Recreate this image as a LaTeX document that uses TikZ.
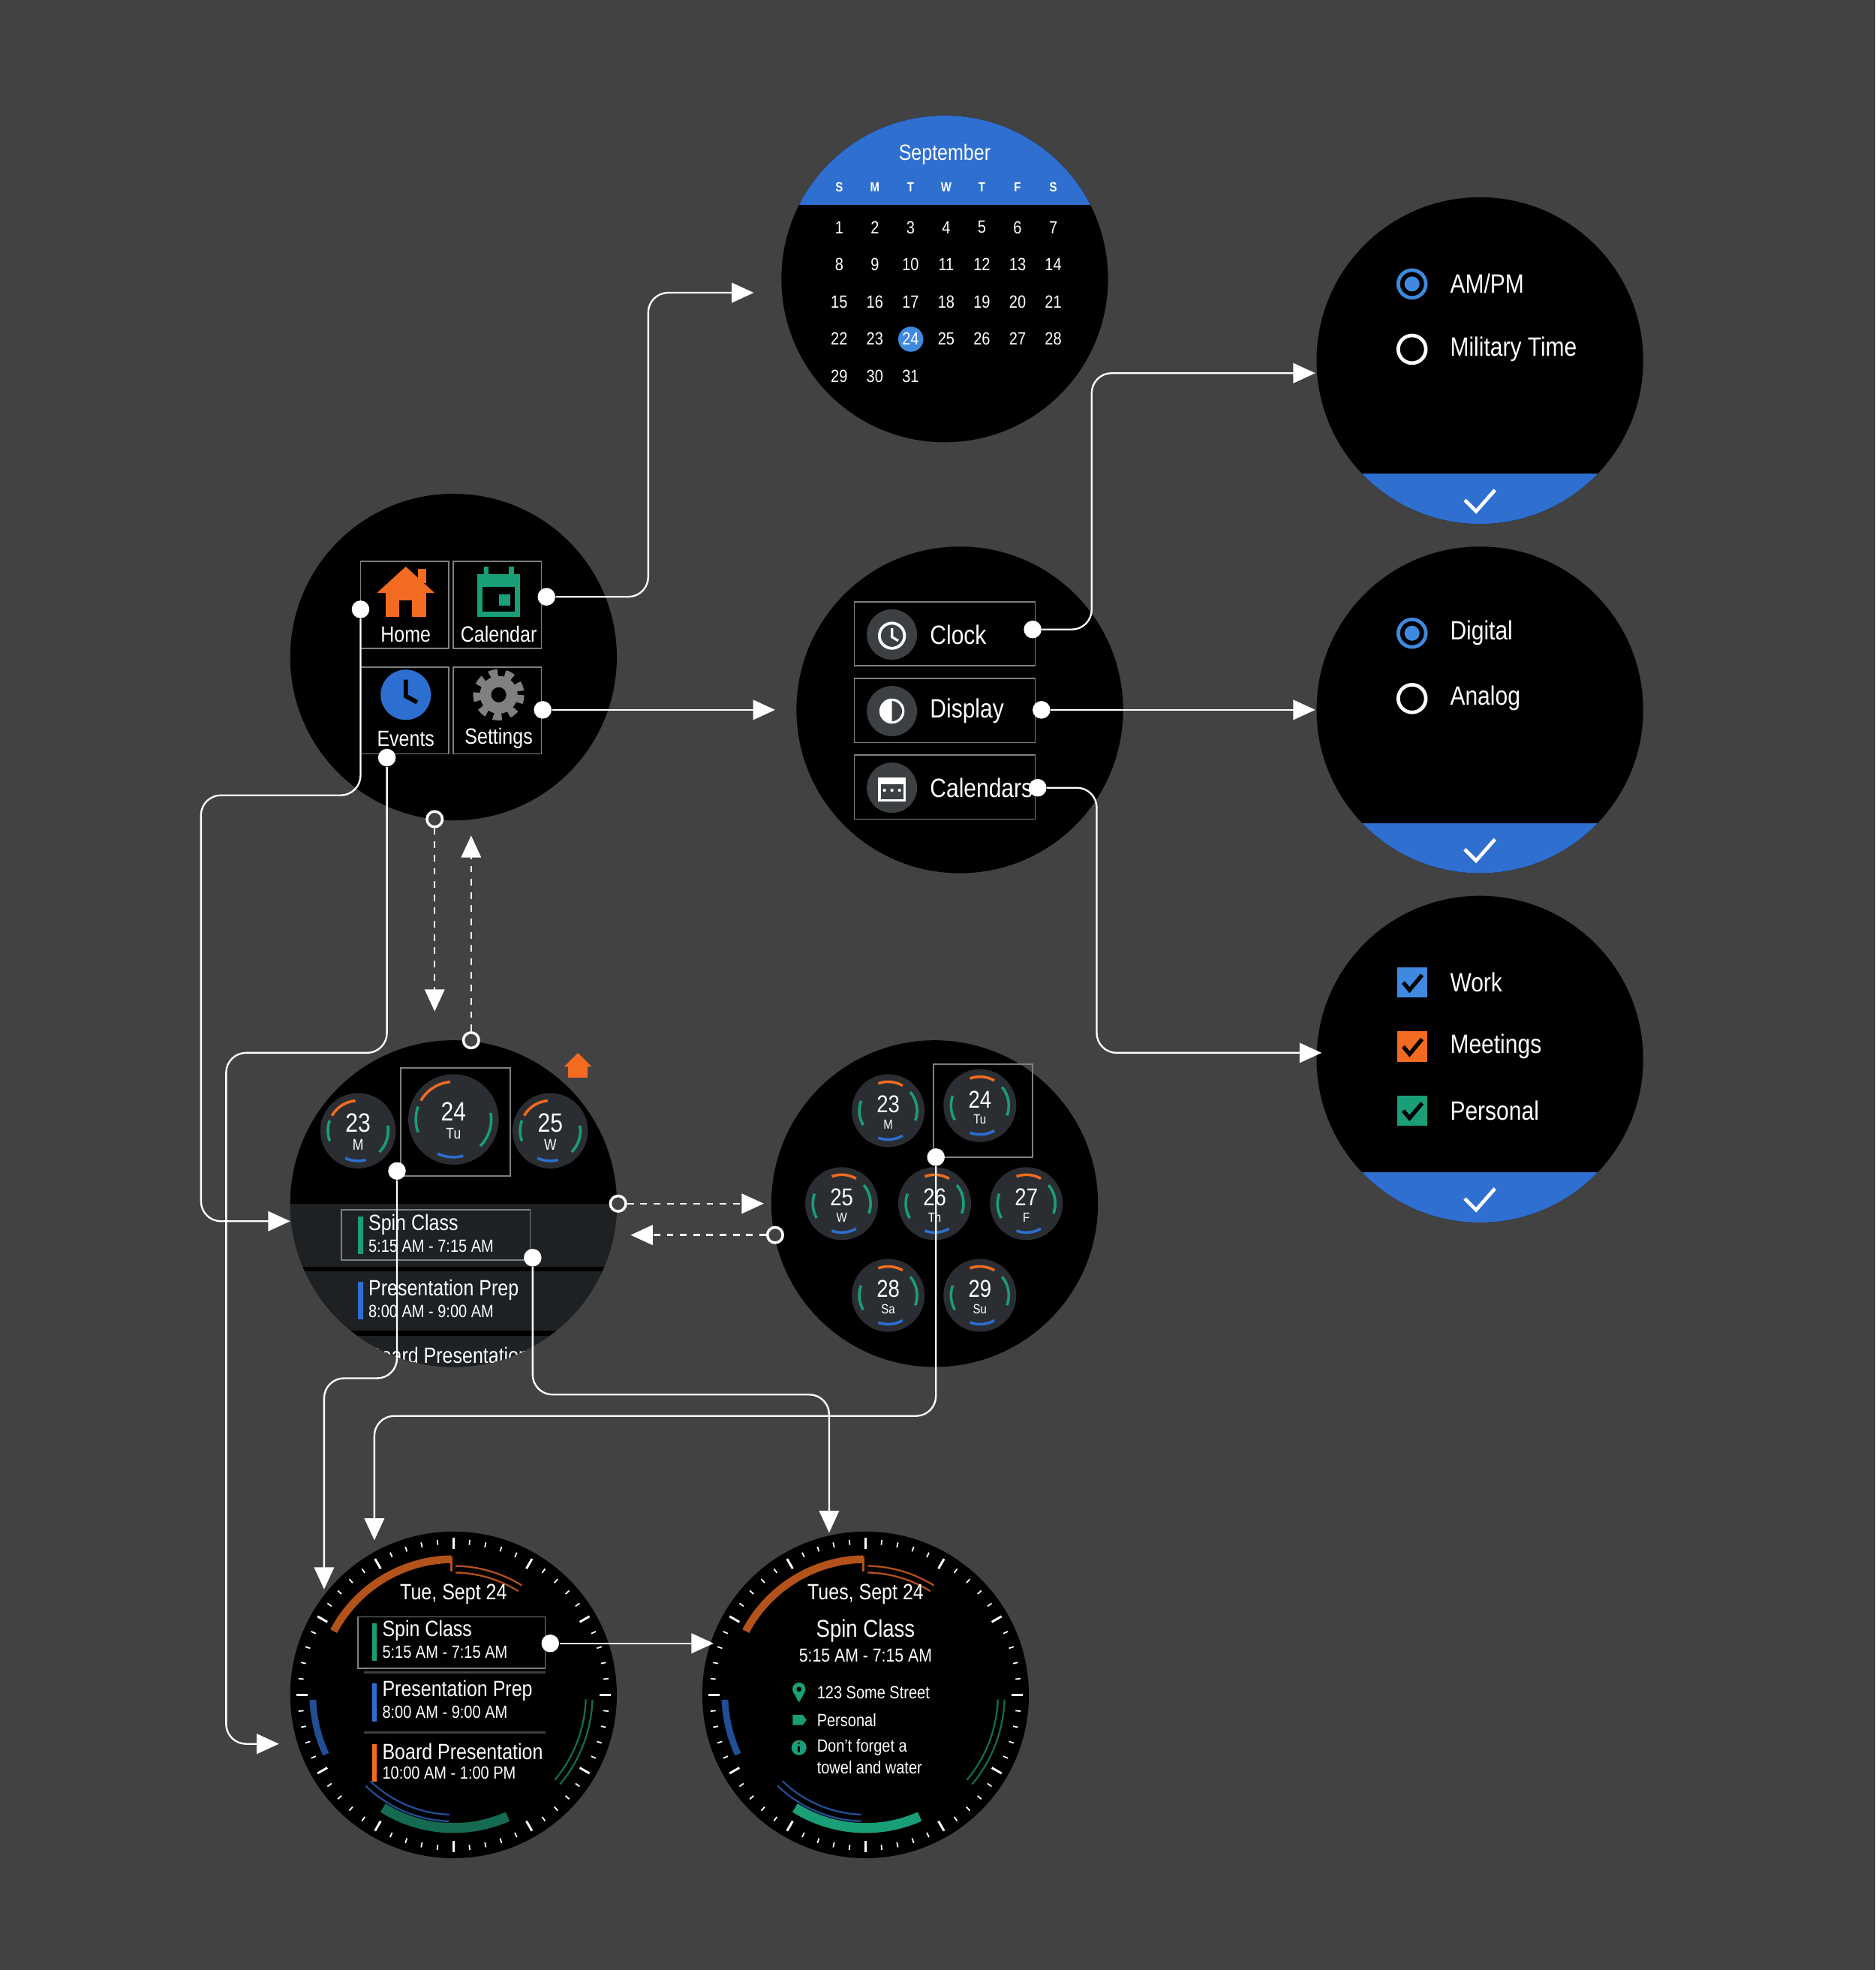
\documentclass[tikz,border=0pt]{standalone}
\usepackage{fontspec}
\setmainfont[FakeStretch=0.85]{Liberation Sans}
\usepackage{tikz}
\usetikzlibrary{arrows.meta}
\definecolor{bg}{HTML}{424242}
\definecolor{calblue}{HTML}{2F6FD0}
\definecolor{radio}{HTML}{3F8AE0}
\definecolor{ora}{HTML}{F26B21}
\definecolor{dora}{HTML}{B4521C}
\definecolor{grn}{HTML}{1A9E78}
\definecolor{dgrn}{HTML}{146B52}
\definecolor{blu}{HTML}{2D6FD0}
\definecolor{dblu}{HTML}{224E94}
\definecolor{chip}{HTML}{2A2E32}
\definecolor{band}{HTML}{1E2124}
\definecolor{icon}{HTML}{3C4043}
\newcommand\fsz[1]{\fontsize{#1}{#1}\selectfont}
\tikzset{
  watch/.style={fill=black},
  link/.style={draw=white, line width=0.8pt, rounded corners=9pt},
  go/.style={-{Triangle[width=9pt,length=10pt]}},
  dot/.style={circle, fill=white, inner sep=0pt, minimum size=8pt},
  ring/.style={circle, draw=white, fill=bg, line width=1.2pt, inner sep=0pt, minimum size=7pt},
  txt/.style={text=white, inner sep=0pt},
  tile/.style={draw=gray, line width=0.6pt},
  chipc/.style={fill=chip},
  tick/.style={draw=white, line width=0.6pt},
  hollow/.style={line width=0.8pt, double=black, double distance=2.2pt},
}
\begin{document}
\begin{tikzpicture}[x=0.02cm,y=-0.02cm]
\fill[bg] (0,0) rectangle (1493,1568);
\useasboundingbox (0,0) rectangle (1493,1568);

% watch circles
\foreach \cx/\cy in {752/222,361/523,764/565,1178/287,1178/565,1178/843,361/958,744/958,361/1349,689/1349}
  \fill[watch] (\cx,\cy) circle (130);

% calendar month
\begin{scope}
  \clip (752,222) circle (130);
  \fill[calblue] (600,80) rectangle (900,163);
\end{scope}
\node[txt, font=\fsz{10}] (month) at (752,123) {September};
\foreach \l [count=\c from 0] in {S,M,T,W,T,F,S}
  \node[txt, font=\bfseries\fsz{6}] at (668+28.4*\c,149) {\l};
\fill[radio] (725,270) circle (10);
\foreach \d in {1,...,31}{
  \pgfmathtruncatemacro\col{mod(\d-1,7)}
  \pgfmathtruncatemacro\row{div(\d-1,7)}
  \node[txt, font=\fsz{8}] at (668+28.4*\col,181+29.6*\row) {\d};
}

% home menu
\foreach \x/\y in {287/447,361/447,287/531,361/531}
  \draw[tile] (\x,\y) rectangle ++(70,69);
\fill[ora] (323,451) -- (346,472) -- (300,472) -- cycle;
\fill[ora] (333,453) rectangle (339,464);
\fill[ora] (307,468) rectangle (339,491);
\fill[black] (318,478) rectangle (328,491);
\fill[grn] (380,457) rectangle (414,491);
\fill[grn] (385,451) rectangle (389,458);
\fill[grn] (405,451) rectangle (409,458);
\fill[black] (384,467) rectangle (410,487);
\fill[grn] (397,473) rectangle (406,482);
\fill[blu] (323,553) circle (20);
\draw[black, line width=2pt] (323,541) -- (323,554) -- (332,559);
\draw[gray, line width=5pt, dash pattern=on 3.5pt off 3pt] (397,553) circle (16);
\fill[gray] (397,553) circle (15);
\fill[black] (397,553) circle (6);
\node[txt, font=\fsz{10}] (home) at (323,505) {Home};
\node[txt, font=\fsz{10}] (cal) at (397,505) {Calendar};
\node[txt, font=\fsz{10}] (events) at (323,588) {Events};
\node[txt, font=\fsz{10}] (settings) at (397,588) {Settings};

% settings menu
\foreach \y/\t in {479/Clock,540/Display,601/Calendars}{
  \draw[tile] (680,\y) rectangle (824,\y+51);
  \fill[icon] (710,\y+26) circle (20);
  \node[txt, anchor=west, font=\fsz{12}] at (740,\y+26) {\t};
}
\draw[white, line width=1.3pt] (710,506) circle (10);
\draw[white, line width=1.1pt] (710,500) -- (710,507) -- (715,510);
\fill[white] (710,566) circle (10);
\fill[icon] (710,558) arc[start angle=-90,end angle=90,radius=8];
\draw[white, line width=1.2pt] (700,620) rectangle (720,637);
\fill[white] (700,620) rectangle (720,624);
\foreach \x in {704,710,716} \fill[white] (\x,629) circle (1.3);

% option screens
\foreach \cy/\by in {287/377,565/655,843/933}{
  \begin{scope}
    \clip (1178,\cy) circle (130);
    \fill[calblue] (1040,\by) rectangle (1320,\cy+140);
  \end{scope}
  \draw[white, line width=1.6pt] (1166,\by+21) -- (1175,\by+30) -- (1190,\by+13);
}
\foreach \y/\t/\on in {226/AM\slash PM/1,278/Military Time/0,504/Digital/1,556/Analog/0}{
  \ifnum\on=1
    \draw[radio, line width=1.6pt] (1124,\y) circle (11);
    \fill[radio] (1124,\y) circle (6);
  \else
    \draw[white, line width=1.6pt] (1124,\y) circle (11);
  \fi
  \node[txt, anchor=west, font=\fsz{12}] at (1154,\y) {\t};
}
\foreach \y/\t/\c in {782/Work/radio,833/Meetings/ora,884/Personal/grn}{
  \fill[\c] (1112,\y-12) rectangle (1136,\y+12);
  \draw[black, line width=1.8pt] (1117,\y) -- (1122,\y+6) -- (1132,\y-6);
  \node[txt, anchor=west, font=\fsz{12}] at (1154,\y) {\t};
}

% day list
\begin{scope}
  \clip (361,958) circle (130);
  \fill[band] (220,958) rectangle (500,1100);
  \fill[black] (220,1008) rectangle (500,1012);
  \fill[black] (220,1059) rectangle (500,1063);
  \node[txt, anchor=west, font=\fsz{10}] at (293,1079) {Board Presentation};
\end{scope}
\foreach \cx/\cy/\r/\n/\d in {285/900/30/23/M,361/891/36/24/Tu,438/900/30/25/W}{
  \fill[chipc] (\cx,\cy) circle (\r);
  \draw[ora, line width=1.2pt] (\cx,\cy) ++(-150:\r-6) arc[start angle=-150,end angle=-95,radius=\r-6];
  \draw[grn, line width=1.2pt] (\cx,\cy) ++(-10:\r-6) arc[start angle=-10,end angle=45,radius=\r-6];
  \draw[blu, line width=1.2pt] (\cx,\cy) ++(75:\r-6) arc[start angle=75,end angle=115,radius=\r-6];
  \draw[grn, line width=1.2pt] (\cx,\cy) ++(160:\r-6) arc[start angle=160,end angle=200,radius=\r-6];
  \node[txt, font=\fsz{12}] at (\cx,\cy-6) {\n};
  \node[txt, font=\fsz{7}] at (\cx,\cy+11) {\d};
}
\draw[tile] (319,850) rectangle (406,936);
\fill[ora] (460,838) -- (471,849) -- (449,849) -- cycle;
\fill[ora] (452,848) rectangle (468,858);
\draw[tile] (272,963) rectangle (422,1003);
\fill[grn] (285,968) rectangle (289,998);
\fill[blu] (285,1020) rectangle (289,1050);
\node[txt, anchor=west, font=\fsz{10}] at (293,975) {Spin Class};
\node[txt, anchor=west, font=\fsz{8}] at (293,992) {5:15 AM - 7:15 AM};
\node[txt, anchor=west, font=\fsz{10}] at (293,1027) {Presentation Prep};
\node[txt, anchor=west, font=\fsz{8}] at (293,1044) {8:00 AM - 9:00 AM};

% week grid
\foreach \cx/\cy/\n/\d in {707/884/23/M,780/880/24/Tu,670/958/25/W,744/958/26/Th,817/958/27/F,707/1031/28/Sa,780/1031/29/Su}{
  \fill[chipc] (\cx,\cy) circle (29);
  \draw[ora, line width=1.2pt] (\cx,\cy) ++(-110:23) arc[start angle=-110,end angle=-60,radius=23];
  \draw[grn, line width=1.2pt] (\cx,\cy) ++(-40:23) arc[start angle=-40,end angle=20,radius=23];
  \draw[blu, line width=1.2pt] (\cx,\cy) ++(60:23) arc[start angle=60,end angle=110,radius=23];
  \draw[grn, line width=1.2pt] (\cx,\cy) ++(150:23) arc[start angle=150,end angle=200,radius=23];
  \node[txt, font=\fsz{11}] at (\cx,\cy-5) {\n};
  \node[txt, font=\fsz{6}] at (\cx,\cy+11) {\d};
}
\draw[tile] (743,847) rectangle (822,921);

% agenda faces
\foreach \cx in {361,689}{
  \foreach \i in {0,...,59}{
    \pgfmathtruncatemacro\m{mod(\i,5)}
    \ifnum\m=0
      \draw[tick, line width=1pt] (\cx,1349) ++(\i*6:125) -- ++(\i*6+180:9);
    \else
      \draw[tick] (\cx,1349) ++(\i*6:124) -- ++(\i*6+180:4);
    \fi
  }
  \draw[dora, line width=3.5pt] (\cx,1349) ++(-152:108) arc[start angle=-152,end angle=-91,radius=108];
  \draw[dora, line width=1pt] (\cx,1349) ++(-91:110) -- ++(90:12);
  \draw[dora, hollow] (\cx,1349) ++(-89:100) arc[start angle=-89,end angle=-58,radius=100];
  \draw[dblu, line width=3pt] (\cx,1349) ++(178:112) arc[start angle=178,end angle=155,radius=112];
  \draw[dgrn, hollow] (\cx,1349) ++(2:108) arc[start angle=2,end angle=40,radius=108];
  \draw[dblu, hollow] (\cx,1349) ++(134:98) arc[start angle=134,end angle=92,radius=98];
}
\draw[dgrn, line width=4.5pt] (361,1349) ++(122:106) arc[start angle=122,end angle=66,radius=106];
\draw[grn, line width=4.5pt] (689,1349) ++(122:106) arc[start angle=122,end angle=66,radius=106];
\node[txt, font=\fsz{10}] (faceDate) at (361,1269) {Tue, Sept 24};
\draw[tile] (285,1287) rectangle (434,1328);
\draw[icon, line width=1pt] (290,1331) -- (434,1331);
\draw[icon, line width=1pt] (290,1379) -- (434,1379);
\fill[grn] (296,1292) rectangle (300,1322);
\fill[blu] (296,1340) rectangle (300,1370);
\fill[ora] (296,1388) rectangle (300,1418);
\node[txt, anchor=west, font=\fsz{10}] at (304,1298) {Spin Class};
\node[txt, anchor=west, font=\fsz{8}] at (304,1315) {5:15 AM - 7:15 AM};
\node[txt, anchor=west, font=\fsz{10}] at (304,1346) {Presentation Prep};
\node[txt, anchor=west, font=\fsz{8}] at (304,1363) {8:00 AM - 9:00 AM};
\node[txt, anchor=west, font=\fsz{10}] at (304,1394) {Board Presentation};
\node[txt, anchor=west, font=\fsz{8}] at (304,1411) {10:00 AM - 1:00 PM};

% event detail
\node[txt, font=\fsz{10}] (detDate) at (689,1269) {Tues, Sept 24};
\node[txt, font=\fsz{11}] (detName) at (689,1298) {Spin Class};
\node[txt, font=\fsz{8.5}] at (689,1318) {5:15 AM - 7:15 AM};
\fill[grn] (636,1355) -- (631.5,1347) arc[start angle=150,end angle=390,radius=5.2] -- cycle;
\fill[black] (636,1344.5) circle (2);
\fill[grn] (631,1365) -- (639,1365) -- (642,1369) -- (639,1373) -- (631,1373) -- cycle;
\fill[grn] (636,1391) circle (6);
\fill[black] (635.2,1390) rectangle (636.8,1395);
\fill[black] (636,1387.5) circle (0.9);
\node[txt, anchor=west, font=\fsz{8}] at (650,1347) {123 Some Street};
\node[txt, anchor=west, font=\fsz{8}] at (650,1369) {Personal};
\node[txt, anchor=west, font=\fsz{8}] at (650,1391) {Don't forget a};
\node[txt, anchor=west, font=\fsz{8}] at (650,1407) {towel and water};

% connectors
\node[dot] (calOut) at (435,475) {};
\node[dot] (homeOut) at (287,485) {};
\node[dot] (eventsOut) at (308,603) {};
\node[dot] (setOut) at (432,565) {};
\node[dot] (clockOut) at (822,501) {};
\node[dot] (dispOut) at (829,565) {};
\node[dot] (calsOut) at (826,627) {};
\node[dot] (dayOut) at (316,932) {};
\node[dot] (spinOut) at (424,1001) {};
\node[dot] (weekOut) at (745,921) {};
\node[dot] (faceOut) at (438,1308) {};
\node[ring] (homeRing) at (346,652) {};
\node[ring] (dayRing) at (375,828) {};
\node[ring] (listRing) at (492,958) {};
\node[ring] (weekRing) at (617,983) {};
\coordinate (calIn) at (600,233);
\coordinate (listIn) at (231,972);
\coordinate (faceIn) at (222,1388);
\coordinate (setIn) at (617,565);
\coordinate (dayIn) at (346,805);
\coordinate (homeIn) at (375,665);
\coordinate (weekIn) at (608,958);
\coordinate (listBack) at (502,983);
\coordinate (timeIn) at (1047,297);
\coordinate (styleIn) at (1047,565);
\coordinate (calsIn) at (1052,838);
\coordinate (faceTop) at (258,1265);
\coordinate (detIn) at (660,1220);
\coordinate (faceTop2) at (298,1226);
\coordinate (detSide) at (568,1308);

\draw[link,go] (calOut) -- (516,475) -- (516,233) -- (calIn);
\draw[link,go] (homeOut) -- (287,633) -- (160,633) -- (160,972) -- (listIn);
\draw[link,go] (eventsOut) -- (308,838) -- (180,838) -- (180,1388) -- (faceIn);
\draw[link,go] (setOut) -- (setIn);
\draw[link,go,dashed] (homeRing) -- (dayIn);
\draw[link,go,dashed] (dayRing) -- (homeIn);
\draw[link,go,dashed] (listRing) -- (weekIn);
\draw[link,go,dashed] (weekRing) -- (listBack);
\draw[link,go] (clockOut) -- (869,501) -- (869,297) -- (timeIn);
\draw[link,go] (dispOut) -- (styleIn);
\draw[link,go] (calsOut) -- (873,627) -- (873,838) -- (calsIn);
\draw[link,go] (dayOut) -- (316,1097) -- (258,1097) -- (faceTop);
\draw[link,go] (spinOut) -- (424,1110) -- (660,1110) -- (detIn);
\draw[link,go] (weekOut) -- (745,1127) -- (298,1127) -- (faceTop2);
\draw[link,go] (faceOut) -- (detSide);
\end{tikzpicture}
\end{document}
